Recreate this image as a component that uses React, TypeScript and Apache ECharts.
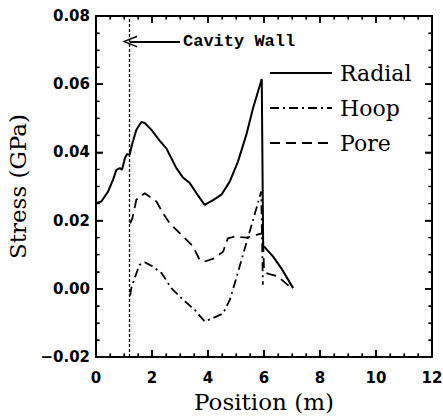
import React, { useEffect, useRef } from "react";
import * as echarts from "echarts";

const seriesNames = ["Radial", "Hoop", "Pore"];

const radialPoints: [number, number][] = [
  [0.0, 0.0251], [0.19, 0.0256], [0.43, 0.0285], [0.61, 0.032], [0.73, 0.0349],
  [0.85, 0.0354], [0.93, 0.0349], [1.03, 0.0383], [1.11, 0.0395], [1.2, 0.0393],
  [1.3, 0.0427], [1.44, 0.0466], [1.62, 0.0489], [1.74, 0.0486], [1.98, 0.0466],
  [2.28, 0.0434], [2.51, 0.0412], [2.87, 0.0354], [3.11, 0.0326], [3.35, 0.031],
  [3.59, 0.028], [3.88, 0.0246], [4.18, 0.026], [4.48, 0.0276], [4.78, 0.0315],
  [5.07, 0.0373], [5.37, 0.0452], [5.61, 0.053], [5.92, 0.0615], [5.97, 0.0124],
  [6.02, 0.0122], [6.32, 0.0095], [6.62, 0.006], [7.04, 0.0002],
];

const hoopPoints: [number, number][] = [
  [1.22, -0.002], [1.26, 0.0002], [1.38, 0.0031], [1.55, 0.007], [1.74, 0.0078],
  [2.04, 0.0065], [2.34, 0.0046], [2.69, 0.0002], [3.11, -0.0032], [3.53, -0.0062],
  [3.88, -0.0096], [4.18, -0.0086], [4.54, -0.0072], [4.78, -0.0032], [5.01, 0.0031],
  [5.25, 0.01], [5.49, 0.0168], [5.73, 0.0236], [5.9, 0.0285], [5.96, 0.0012],
];

const porePoints: [number, number][] = [
  [1.22, 0.0192], [1.3, 0.0207], [1.44, 0.0261], [1.74, 0.028], [2.16, 0.0256],
  [2.39, 0.0222], [2.63, 0.0192], [2.99, 0.0163], [3.46, 0.0125], [3.7, 0.0085],
  [3.88, 0.008], [4.24, 0.009], [4.54, 0.0109], [4.71, 0.0148], [4.95, 0.0153],
  [5.37, 0.015], [5.73, 0.0158], [5.96, 0.0163], [6.0, 0.0055], [6.08, 0.0046],
  [6.2, 0.0043], [6.5, 0.0036], [6.98, 0.0002],
];

const cavityWallX = 1.2;
const annotationY = 0.0725;
const annotationEndX = 3.0;
const annotationText = "Cavity Wall";

const xMin = 0, xMax = 12, xStep = 2, xMinorStep = 0.5;
const yMin = -0.02, yMax = 0.08, yStep = 0.02, yMinorStep = 0.005;

const fmtY = (v: number) => v.toFixed(2).replace("-", "\u2212");
const fmtX = (v: number) => String(Math.round(v));

const tickPositions = (lo: number, hi: number, step: number) => {
  const out: number[] = [];
  const n = Math.round((hi - lo) / step);
  for (let i = 0; i <= n; i++) out.push(+(lo + i * step).toFixed(6));
  return out;
};
const isMajor = (v: number, lo: number, step: number) => {
  const k = (v - lo) / step;
  return Math.abs(k - Math.round(k)) < 1e-6;
};

const tickFont = {
  fontFamily: "DejaVu Sans",
  fontWeight: "bold" as const,
  fontSize: 15,
  color: "#000",
};

const mkAxisLine = () => ({ show: true, onZero: false, lineStyle: { color: "#000", width: 2 } });
const mkAxisTick = () => ({ show: true, inside: true, length: 7, lineStyle: { color: "#000", width: 1.5 } });
const mkMinorTick = () => ({ show: true, splitNumber: 4, length: 3.5, lineStyle: { color: "#000", width: 1.2 } });

export default function App() {
  const ref = useRef<HTMLDivElement>(null);
  useEffect(() => {
    if (!ref.current) return;
    const chart = echarts.init(ref.current, undefined, { renderer: "svg" });
    const chevron = "path://M5,0 L10,12 L8.6,12 L5,3 L1.4,12 L0,12 Z";
    const xTicks = tickPositions(xMin, xMax, xMinorStep);
    const yTicks = tickPositions(yMin, yMax, yMinorStep);
    const tickStyle = (major: boolean) => ({ stroke: "#000", lineWidth: major ? 1.5 : 1.2 });
    chart.setOption({
      animation: false,
      backgroundColor: "#fff",
      grid: {
        left: 96, right: 11, top: 16, bottom: 59,
        outerBoundsMode: "none",
        containLabel: false,
      },
      legend: {
        data: seriesNames,
        orient: "vertical",
        left: 264,
        top: 57,
        itemWidth: 62,
        itemHeight: 14,
        itemGap: 13,
        itemStyle: { opacity: 0 },
        textStyle: {
          fontFamily: "DejaVu Serif",
          fontSize: 22,
          color: "#000",
          padding: [0, 0, 0, 3],
        },
      },
      xAxis: [
        {
          type: "value",
          min: xMin,
          max: xMax,
          interval: xStep,
          position: "bottom",
          name: "Position (m)",
          nameLocation: "middle",
          nameGap: 33,
          nameTextStyle: { fontFamily: "DejaVu Serif", fontSize: 23, color: "#000" },
          axisLabel: { ...tickFont, margin: 13, formatter: fmtX },
          axisLine: mkAxisLine(),
          axisTick: mkAxisTick(),
          minorTick: mkMinorTick(),
          splitLine: { show: false },
        },
        {
          type: "value",
          min: xMin,
          max: xMax,
          interval: xStep,
          position: "top",
          axisLabel: { show: false },
          axisLine: mkAxisLine(),
          axisTick: mkAxisTick(),
          minorTick: mkMinorTick(),
          splitLine: { show: false },
        },
      ],
      yAxis: [
        {
          type: "value",
          min: yMin,
          max: yMax,
          interval: yStep,
          position: "left",
          name: "Stress (GPa)",
          nameLocation: "middle",
          nameGap: 63,
          nameTextStyle: { fontFamily: "DejaVu Serif", fontSize: 23, color: "#000" },
          axisLabel: { ...tickFont, margin: 6, formatter: fmtY },
          axisLine: mkAxisLine(),
          axisTick: mkAxisTick(),
          minorTick: mkMinorTick(),
          splitLine: { show: false },
        },
        {
          type: "value",
          min: yMin,
          max: yMax,
          interval: yStep,
          position: "right",
          axisLabel: { show: false },
          axisLine: mkAxisLine(),
          axisTick: mkAxisTick(),
          minorTick: mkMinorTick(),
          splitLine: { show: false },
        },
      ],
      series: [
        {
          name: seriesNames[0],
          type: "line",
          data: radialPoints,
          symbol: "none",
          lineStyle: { color: "#000", width: 2, type: "solid" },
          itemStyle: { color: "#000" },
          z: 3,
          markLine: {
            silent: true,
            symbol: ["none", "none"],
            label: { show: false },
            lineStyle: { color: "#000", width: 1.3, type: [3, 2] },
            data: [{ xAxis: cavityWallX }],
          },
        },
        {
          name: seriesNames[1],
          type: "line",
          data: hoopPoints,
          symbol: "none",
          lineStyle: { color: "#000", width: 1.8, type: [9, 4, 2, 4] },
          itemStyle: { color: "#000" },
          z: 3,
          markLine: {
            silent: true,
            symbol: [chevron, "none"],
            symbolSize: [12, 15],
            lineStyle: { color: "#000", width: 1.8, type: "solid" },
            label: {
              show: true,
              position: "end",
              distance: 3,
              formatter: annotationText,
              fontFamily: "Liberation Mono",
              fontWeight: "bold",
              fontSize: 17,
              color: "#000",
            },
            data: [
              [
                { coord: [cavityWallX, annotationY] },
                { coord: [annotationEndX, annotationY] },
              ],
            ],
          },
        },
        {
          name: seriesNames[2],
          type: "line",
          data: porePoints,
          symbol: "none",
          lineStyle: { color: "#000", width: 1.8, type: [10, 6] },
          itemStyle: { color: "#000" },
          z: 3,
        },
        {
          type: "custom",
          silent: true,
          clip: false,
          z: 5,
          data: xTicks.map((v) => [v, yMin]),
          renderItem: (_p: any, api: any) => {
            const v = api.value(0);
            const b = api.coord([v, yMin]);
            const t = api.coord([v, yMax]);
            const major = isMajor(v, xMin, xStep);
            const len = major ? 7 : 3.5;
            return {
              type: "group",
              children: [
                { type: "line", shape: { x1: b[0], y1: b[1], x2: b[0], y2: b[1] - len }, style: tickStyle(major) },
                { type: "line", shape: { x1: t[0], y1: t[1], x2: t[0], y2: t[1] + len }, style: tickStyle(major) },
              ],
            };
          },
        },
        {
          type: "custom",
          silent: true,
          clip: false,
          z: 5,
          data: yTicks.map((v) => [xMin, v]),
          renderItem: (_p: any, api: any) => {
            const v = api.value(1);
            const l = api.coord([xMin, v]);
            const r = api.coord([xMax, v]);
            const major = isMajor(v, yMin, yStep);
            const len = major ? 7 : 3.5;
            return {
              type: "group",
              children: [
                { type: "line", shape: { x1: l[0], y1: l[1], x2: l[0] + len, y2: l[1] }, style: tickStyle(major) },
                { type: "line", shape: { x1: r[0], y1: r[1], x2: r[0] - len, y2: r[1] }, style: tickStyle(major) },
              ],
            };
          },
        },
      ],
    });
    return () => chart.dispose();
  }, []);
  return <div ref={ref} style={{ width: 443, height: 416, position: "absolute", left: 0, top: 0 }} />;
}
